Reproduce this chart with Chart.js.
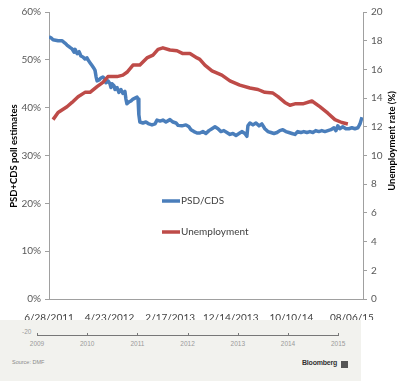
<!DOCTYPE html>
<html>
<head>
<meta charset="utf-8">
<script src="https://cdn.jsdelivr.net/npm/chart.js@4/dist/chart.umd.min.js"></script>
<style>
  html, body { margin: 0; padding: 0; background: #fff; }
  #wrap { position: relative; width: 400px; height: 381px; overflow: hidden; }
  #c { position: absolute; left: 0; top: 0; }
  #strip { position: absolute; left: 0; top: 320px; width: 361px; height: 61px; background: #f2f2ee; font-family: "Liberation Sans", Arial, sans-serif; }
  .t { position: absolute; white-space: nowrap; }
  .yr { font-size: 6.5px; color: #9a9a9a; top: 20px; transform: translateX(-50%); }
  .tk { position: absolute; top: 13px; width: 1px; height: 3px; background: #777; }
</style>
</head>
<body>
<div id="wrap">
  <canvas id="c" width="400" height="320"></canvas>
  <div id="strip">
    <div class="t" style="left:22px;top:8px;font-size:6.5px;color:#9a9a9a;">-20</div>
    <div style="position:absolute;left:37px;top:15px;width:302px;height:1px;background:#777;"></div>
    <div id="years"></div>
    <div class="t" style="left:12px;top:39px;font-size:5.5px;color:#8a8a8a;">Source: DMF</div>
    <div class="t" style="left:302px;top:39px;font-size:7px;font-weight:bold;color:#333;letter-spacing:-0.2px;">Bloomberg</div>
    <div style="position:absolute;left:341px;top:41px;width:7px;height:7px;background:#555;"></div>
  </div>
</div>
<script>
// ---- Data (day index from 6/28/2011) ----
const xTickDays = [0, 300, 600, 900, 1200, 1500];
const xTickLabels = ["6/28/2011", "4/23/2012", "2/17/2013", "12/14/2013", "10/10/14", "08/06/15"];

const psdDays = [0,10,20,45,64,79,89,104,114,124,129,139,149,158,168,178,188,193,203,213,223,228,233,238,248,257,267,277,282,292,302,307,312,322,327,337,346,356,366,376,381,386,396,406,416,426,436,441,445,450,465,480,495,510,525,535,550,564,579,599,614,629,639,658,678,693,703,718,733,747,762,777,792,807,822,837,851,866,881,896,911,926,941,955,970,980,985,995,1010,1025,1040,1054,1069,1084,1099,1114,1129,1143,1158,1173,1188,1203,1218,1232,1247,1262,1277,1292,1307,1321,1336,1351,1366,1381,1396,1411,1421,1430,1440,1455,1470,1485,1500,1515,1530,1540,1550];
const psdValues = [54.8,54.6,54.2,54.0,54.0,53.5,53.1,52.6,52.3,51.6,52.2,51.3,51.7,50.8,50.6,50.2,50.4,50.0,49.4,48.8,48.2,47.8,46.5,45.6,45.8,46.2,46.4,46.0,45.2,45.6,45.0,44.2,45.0,44.6,43.8,44.2,43.2,43.8,43.0,43.4,41.8,40.8,41.2,41.4,41.8,42.0,42.2,41.8,38.5,37.0,36.8,37.0,36.6,36.4,36.6,37.4,37.2,37.4,37.0,37.5,37.0,36.8,36.3,36.2,36.4,36.0,35.4,35.0,34.7,34.7,35.0,34.6,35.2,35.6,36.0,35.6,35.0,35.2,34.8,34.4,34.6,34.2,34.6,35.0,34.6,34.0,36.2,36.8,36.4,36.8,36.2,36.6,35.6,35.0,34.8,34.6,34.8,35.2,35.4,35.0,34.8,34.6,34.4,35.0,34.8,35.0,34.8,35.0,34.8,35.2,35.0,35.2,35.0,35.2,35.4,35.8,35.2,36.2,35.6,36.0,35.6,35.6,35.8,35.6,35.8,36.6,38.0];

const unempDays = [20,45,89,114,144,178,203,238,267,292,337,366,386,416,450,485,515,540,564,599,634,663,698,733,747,772,807,856,896,945,995,1035,1069,1109,1134,1168,1193,1218,1257,1302,1341,1381,1416,1450,1480];
const unempValues = [12.5,13.0,13.4,13.7,14.1,14.4,14.4,14.8,15.1,15.5,15.5,15.6,15.8,16.3,16.3,16.8,17.0,17.4,17.5,17.35,17.3,17.1,17.1,16.8,16.7,16.3,15.9,15.6,15.2,14.9,14.7,14.6,14.4,14.35,14.1,13.7,13.5,13.6,13.6,13.8,13.4,12.95,12.5,12.3,12.2];

const yLeftTitle = "PSD+CDS poll estimates";
const yRightTitle = "Unemployment rate (%)";
const seriesNames = ["PSD/CDS", "Unemployment"];
const stripYears = ["2009","2010","2011","2012","2013","2014","2015"];

// ---- Bottom strip year labels ----
const yearsEl = document.getElementById('years');
stripYears.forEach((y, i) => {
  const x = 37 + i * 50.2;
  const tk = document.createElement('div'); tk.className = 'tk'; tk.style.left = x + 'px'; yearsEl.appendChild(tk);
  const d = document.createElement('div'); d.className = 't yr'; d.style.left = x + 'px'; d.textContent = y; yearsEl.appendChild(d);
});

const BLUE = '#4a7ebb', RED = '#be4b48';
const FONT = 'Lato, "Open Sans", sans-serif';
Chart.defaults.font.family = FONT;

const toPts = (xs, ys) => xs.map((x, i) => ({ x: x, y: ys[i] }));

const extras = {
  id: 'extras',
  afterDraw(chart) {
    const ctx = chart.ctx;
    ctx.save();
    // axis titles
    ctx.fillStyle = '#000';
    ctx.font = 'bold 9.5px ' + FONT;
    ctx.textAlign = 'center'; ctx.textBaseline = 'middle';
    ctx.save(); ctx.translate(14, 156); ctx.rotate(-Math.PI / 2); ctx.fillText(yLeftTitle, 0, 0); ctx.restore();
    ctx.save(); ctx.translate(392, 141); ctx.rotate(-Math.PI / 2); ctx.fillText(yRightTitle, 0, 0); ctx.restore();
    // legend
    const items = [[BLUE, seriesNames[0], 201], [RED, seriesNames[1], 232]];
    ctx.font = '10px ' + FONT; ctx.textAlign = 'left';
    items.forEach(([col, txt, y]) => {
      ctx.strokeStyle = col; ctx.lineWidth = 3.5; ctx.lineCap = 'butt';
      ctx.beginPath(); ctx.moveTo(162, y); ctx.lineTo(180, y); ctx.stroke();
      ctx.fillStyle = '#404040'; ctx.fillText(txt, 181, y);
    });
    ctx.restore();
  }
};

new Chart(document.getElementById('c'), {
  type: 'line',
  data: {
    datasets: [
      { label: seriesNames[0], data: toPts(psdDays, psdValues), yAxisID: 'yL', borderColor: BLUE, borderWidth: 3.5, pointRadius: 0, tension: 0, order: 1, borderJoinStyle: 'round' },
      { label: seriesNames[1], data: toPts(unempDays, unempValues), yAxisID: 'yR', borderColor: RED, borderWidth: 3.5, pointRadius: 0, tension: 0, order: 0, borderJoinStyle: 'round' }
    ]
  },
  options: {
    responsive: false,
    animation: false,
    devicePixelRatio: 1,
    layout: { padding: { top: 12, left: 0, right: 0, bottom: 0 } },
    plugins: { legend: { display: false }, tooltip: { enabled: false } },
    scales: {
      x: {
        type: 'linear', min: 0, max: 1555,
        afterBuildTicks: s => { s.ticks = xTickDays.map(v => ({ value: v })); },
        afterFit: s => { s.height = 21; },
        ticks: { callback: (v) => xTickLabels[xTickDays.indexOf(v)], color: '#404040', font: { size: 10 }, padding: 5, maxRotation: 0, autoSkip: false },
        grid: { display: false },
        border: { display: true, color: '#a0a0a0', width: 1 }
      },
      yL: {
        position: 'left', min: 0, max: 60,
        afterFit: s => { s.width = 49; },
        ticks: { stepSize: 10, callback: v => v + '%', color: '#595959', font: { size: 10 }, padding: 4 },
        grid: { drawOnChartArea: false, tickLength: 4, color: '#a0a0a0' },
        border: { display: true, color: '#a0a0a0', width: 1 }
      },
      yR: {
        position: 'right', min: 0, max: 20,
        afterFit: s => { s.width = 37; },
        ticks: { stepSize: 2, color: '#595959', font: { size: 10 }, padding: 4 },
        grid: { drawOnChartArea: false, tickLength: 4, color: '#a0a0a0' },
        border: { display: true, color: '#a0a0a0', width: 1 }
      }
    }
  },
  plugins: [extras]
});
</script>
</body>
</html>
